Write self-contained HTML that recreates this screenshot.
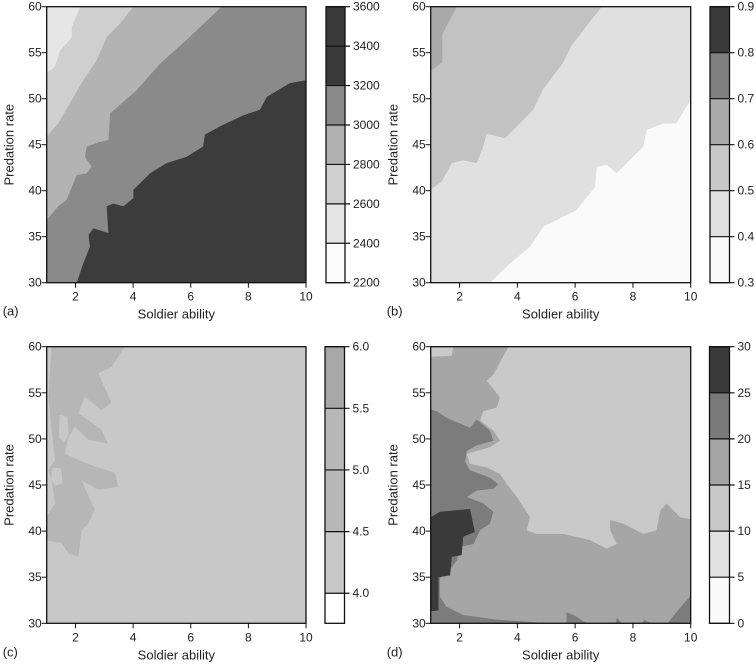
<!DOCTYPE html>
<html><head><meta charset="utf-8"><style>
html,body{margin:0;padding:0;background:#fff}
svg{display:block}
text{font-family:"Liberation Sans",Arial,sans-serif;fill:#222}
</style></head><body>
<svg id="fig" width="756" height="664" viewBox="0 0 756 664" xmlns="http://www.w3.org/2000/svg"></svg>
<script>
// ---------- data ----------
const xTicks = [2,4,6,8,10];
const yTicks = [30,35,40,45,50,55,60];

// Panel (a) contour boundaries [soldier ability, predation rate]
const aBound1 = [[2.16,60],[1.98,58.6],[1.87,57.8],[1.87,56.7],[1.46,55.2],[1.29,53.5],[1,52.8]];
const aBound2 = [[4.01,60],[3.55,58.2],[3.08,56.7],[2.74,54.2],[2.27,52.0],[1.93,50.2],[1.40,47.3],[1,45.9]];
const aBound3 = [[7.07,60],[5.86,56.4],[4.93,53.8],[4.12,50.9],[3.20,48.4],[3.14,45.5],[2.85,45.3],[2.39,44.8],[2.33,43.7],[2.56,42.6],[2.39,41.9],[2.04,41.7],[1.69,39.0],[1.40,38.3],[1,36.8]];
const aBound4 = [[10,52.0],[9.44,51.7],[8.64,50.2],[8.40,48.8],[7.83,48.2],[7.02,47.0],[6.49,46.1],[6.43,44.8],[5.86,43.7],[5.16,43.0],[4.59,41.9],[4.01,40.1],[4.01,39.2],[3.66,38.3],[3.31,38.6],[3.08,38.3],[3.14,35.4],[2.62,35.9],[2.45,35.2],[2.50,33.9],[2.27,32.1],[2.04,30]];
const aLevels = [2200,2400,2600,2800,3000,3200,3400,3600];

// Panel (b)
const bBound1 = [[1.9,60],[1.4,57],[1.4,54],[1,53]];
const bBound2 = [[6.92,60],[5.88,55.8],[5.54,53.7],[4.9,51.1],[4.55,48.8],[3.57,45.7],[2.94,46.2],[2.82,44.8],[2.59,43.0],[2.13,43.3],[1.73,43.0],[1.38,41.0],[1,40.1]];
const bBound3 = [[10,49.9],[9.5,47.3],[9.05,47.3],[8.48,46.6],[8.36,44.8],[7.44,41.9],[7.1,42.8],[6.75,42.6],[6.69,40.4],[6.05,37.9],[4.9,36.1],[4.44,33.9],[3.75,32.1],[3.05,30]];
const bLevels = [0.3,0.4,0.5,0.6,0.7,0.8,0.9];

// Panel (c)
const cBlob = [[1.17,60],[3.71,60],[3.25,57.8],[2.79,57.1],[3.25,53.9],[2.9,53.1],[2.33,54.6],[2.1,52.8],[2.9,51.0],[3.13,49.5],[2.44,49.9],[1.98,51.3],[1.75,50.2],[1.63,48.4],[2.33,47.4],[3.37,46.3],[3.48,44.8],[2.79,44.5],[2.21,45.5],[2.67,42.3],[2.44,40.8],[2.21,40.1],[2.1,37.2],[1.75,37.6],[1.52,38.7],[1,39.0],[1,41.6],[1.29,43.0],[1.17,45.5],[1.06,46.6],[1.29,47.7],[1.17,51.0],[1.06,54.6]];
const cHole1 = [[1.45,52.6],[1.72,52.4],[1.76,50.5],[1.6,49.6],[1.42,50.2]];
const cHole2 = [[1.2,46.9],[1.5,46.8],[1.55,45.2],[1.3,44.9],[1.15,45.6]];
const cLevels = [3.756,4.0,4.5,5.0,5.5,6.0];

// Panel (d)
const dLight = [[3.69,60],[3.52,59.0],[3.17,57.0],[2.94,56.3],[3.40,54.5],[3.28,53.4],[2.82,53.0],[2.71,52.0],[3.17,50.9],[3.40,49.8],[3.05,49.1],[2.25,48.4],[2.36,47.3],[2.94,46.9],[3.40,46.2],[3.63,45.1],[3.98,43.7],[4.44,41.5],[4.32,40.1],[4.67,39.7],[5.59,39.7],[6.52,39.0],[7.09,38.1],[7.44,38.6],[7.21,40.1],[7.21,41.2],[7.67,40.8],[8.36,39.7],[8.82,40.1],[8.94,42.2],[9.17,43.0],[9.63,41.5],[10,41.3],[10,60]];
const dLightTop = [[1,60],[1.78,60],[1.73,59.0],[1,58.9]];
const dMid = [[1,53.2],[1.21,53.0],[1.55,52.3],[2.36,51.2],[2.59,52.1],[3.05,50.9],[3.17,49.8],[2.59,49.3],[2.25,48.7],[2.19,47.5],[2.36,46.6],[3.05,45.8],[3.34,45.1],[3.17,44.6],[2.59,44.4],[2.25,43.7],[2.82,43.0],[3.17,42.1],[3.05,40.8],[2.71,40.1],[2.48,38.6],[2.02,38.3],[1.90,36.8],[1.67,35.8],[1.32,34.9],[1.32,32.9],[1.55,31.8],[2.13,30.9],[3.28,30.4],[4.67,30.1],[4.67,30],[1,30]];
const dBlob1 = [[5.7,30],[5.7,31.2],[6.0,30.8],[6.4,30]];
const dBlob2 = [[7.4,30],[7.45,30.6],[7.6,30]];
const dBlob3 = [[8.3,30],[8.4,30.4],[8.6,30]];
const dBlob4 = [[9.2,30],[9.5,31.2],[10,33],[10,30]];
const dDark = [[1,41.5],[1.32,42.1],[2.36,42.4],[2.53,39.9],[2.13,39.4],[2.07,37.4],[1.73,37.2],[1.67,35.2],[1.27,35.0],[1.27,31.4],[1.03,31.3],[1,31.3]];
const dLevels = [0,5,10,15,20,25,30];

// ---------- drawing ----------
const NS = "http://www.w3.org/2000/svg";
const svg = document.getElementById('fig');
function el(tag, attrs, parent){
  const e = document.createElementNS(NS, tag);
  for (const k in attrs) e.setAttribute(k, attrs[k]);
  (parent||svg).appendChild(e);
  return e;
}
function makePanel(box){
  const sx = v => box.x0 + (v-1)/9*(box.x1-box.x0);
  const sy = v => box.y1 - (v-30)/30*(box.y1-box.y0);
  return {sx, sy, box};
}
function polyPts(P, pts){ return pts.map(p => P.sx(p[0]).toFixed(1)+','+P.sy(p[1]).toFixed(1)).join(' '); }
function region(P, g, pts, fill, name){
  const e = el('polygon', {points: polyPts(P, pts), fill: fill}, g);
  
  
}
function upperRegion(b){ return b.concat([[1,60]]); }
function axes(P, g, label){
  const b = P.box;
  const fr = el('rect', {x:b.x0, y:b.y0, width:b.x1-b.x0, height:b.y1-b.y0, fill:'none', stroke:'#111', 'stroke-width':1.3}, g);
  
  
  xTicks.forEach(v => {
    const x = P.sx(v);
    const t = el('line', {x1:x, x2:x, y1:b.y1, y2:b.y1+5, stroke:'#111', 'stroke-width':1}, g);
    
    
    const tx = el('text', {x:x, y:b.y1+18, 'font-size':12, 'text-anchor':'middle'}, g);
    tx.textContent = v;
    
    
  });
  yTicks.forEach(v => {
    const y = P.sy(v);
    const t = el('line', {x1:b.x0-5, x2:b.x0, y1:y, y2:y, stroke:'#111', 'stroke-width':1}, g);
    
    
    const tx = el('text', {x:b.x0-5, y:y+4, 'font-size':12, 'text-anchor':'end'}, g);
    tx.textContent = v;
    
    
  });
  const xt = el('text', {x:(b.x0+b.x1)/2, y:b.y1+36, 'font-size':13, 'text-anchor':'middle'}, g);
  xt.textContent = 'Soldier ability';
  
  
  const yx = b.x0-33, yy = (b.y0+b.y1)/2;
  const yt = el('text', {x:yx, y:yy, 'font-size':13, 'text-anchor':'middle', transform:'rotate(-90 '+yx+' '+yy+')'}, g);
  yt.textContent = 'Predation rate';
  
  
  const pl = el('text', {x:b.x0-44, y:b.y1+33, 'font-size':13}, g);
  pl.textContent = label;
  
  
}
function colorbar(g, cx0, cx1, y0, y1, levels, colors, labels, fmt){
  const lo = levels[0], hi = levels[levels.length-1];
  const sc = v => y1 - (v-lo)/(hi-lo)*(y1-y0);
  for (let i=0;i<levels.length-1;i++){
    const r = el('rect', {x:cx0, y:sc(levels[i+1]), width:cx1-cx0, height:sc(levels[i])-sc(levels[i+1]), fill:colors[i]}, g);
    
    
  }
  const fr = el('rect', {x:cx0, y:y0, width:cx1-cx0, height:y1-y0, fill:'none', stroke:'#111', 'stroke-width':1.3}, g);
  
  
  labels.forEach(v => {
    const y = sc(v);
    const ln = el('line', {x1:cx0, x2:cx1+5, y1:y, y2:y, stroke:'#111', 'stroke-width':1.2}, g);
    
    
    const tx = el('text', {x:cx1+8, y:y+4, 'font-size':12}, g);
    tx.textContent = fmt(v);
    
    
  });
}
function panelGroup(name){
  const g = el('g', {});
  
  
  return g;
}

// Panel a
(function(){
  const g = panelGroup('panel-a');
  const P = makePanel({x0:46.7, x1:306, y0:6.7, y1:282.7});
  region(P, g, [[1,30],[10,30],[10,60],[1,60]], '#8a8a8a', 'region-3000-3200');
  region(P, g, upperRegion(aBound3), '#b3b3b3', 'region-2800-3000');
  region(P, g, upperRegion(aBound2), '#cfcfcf', 'region-2600-2800');
  region(P, g, upperRegion(aBound1), '#e6e6e6', 'region-2400-2600');
  region(P, g, aBound4.concat([[10,30]]), '#3c3c3c', 'region-3200-3400');
  axes(P, g, '(a)');
  colorbar(g, 326, 345, 6.7, 282.7, aLevels, ['#fbfbfb','#e5e5e5','#cfcfcf','#b0b0b0','#8a8a8a','#3a3a3a','#3a3a3a'], aLevels, v=>String(v));
})();
// Panel b
(function(){
  const g = panelGroup('panel-b');
  const P = makePanel({x0:430.7, x1:690.7, y0:6.7, y1:282.7});
  region(P, g, [[1,30],[10,30],[10,60],[1,60]], '#e0e0e0', 'region-0.4-0.5');
  region(P, g, upperRegion(bBound2), '#c2c2c2', 'region-0.5-0.6');
  region(P, g, upperRegion(bBound1), '#a9a9a9', 'region-0.6-0.7');
  region(P, g, bBound3.concat([[10,30]]), '#fafafa', 'region-0.3-0.4');
  axes(P, g, '(b)');
  colorbar(g, 710, 729.5, 6.7, 282.7, bLevels, ['#fafafa','#e0e0e0','#c8c8c8','#aaaaaa','#808080','#3a3a3a'], bLevels, v=>v.toFixed(1));
})();
// Panel c
(function(){
  const g = panelGroup('panel-c');
  const P = makePanel({x0:46.7, x1:306, y0:346.7, y1:623.3});
  region(P, g, [[1,30],[10,30],[10,60],[1,60]], '#c8c8c8', 'region-4.0-4.5');
  region(P, g, cBlob, '#b6b6b6', 'region-4.5-5.0');
  region(P, g, cHole1, '#c8c8c8', 'region-4.0-4.5-hole');
  region(P, g, cHole2, '#c8c8c8', 'region-4.0-4.5-hole');
  axes(P, g, '(c)');
  colorbar(g, 325, 344.5, 346.7, 623.3, cLevels, ['#ffffff','#c8c8c8','#b8b8b8','#b8b8b8','#a8a8a8'], cLevels.slice(1), v=>v.toFixed(1));
})();
// Panel d
(function(){
  const g = panelGroup('panel-d');
  const P = makePanel({x0:430.7, x1:690.7, y0:346.7, y1:623.3});
  region(P, g, [[1,30],[10,30],[10,60],[1,60]], '#a6a6a6', 'region-15-20');
  region(P, g, dLight, '#c9c9c9', 'region-10-15');
  region(P, g, dLightTop, '#c9c9c9', 'region-10-15');
  region(P, g, dMid, '#7c7c7c', 'region-20-25');
  [dBlob1,dBlob2,dBlob3,dBlob4].forEach(b => region(P, g, b, '#7c7c7c', 'region-20-25'));
  region(P, g, dDark, '#3a3a3a', 'region-25-30');
  axes(P, g, '(d)');
  colorbar(g, 709.5, 729.5, 346.7, 623.3, dLevels, ['#fafafa','#e2e2e2','#c8c8c8','#a5a5a5','#7a7a7a','#3a3a3a'], dLevels, v=>String(v));
})();
</script>
</body></html>
